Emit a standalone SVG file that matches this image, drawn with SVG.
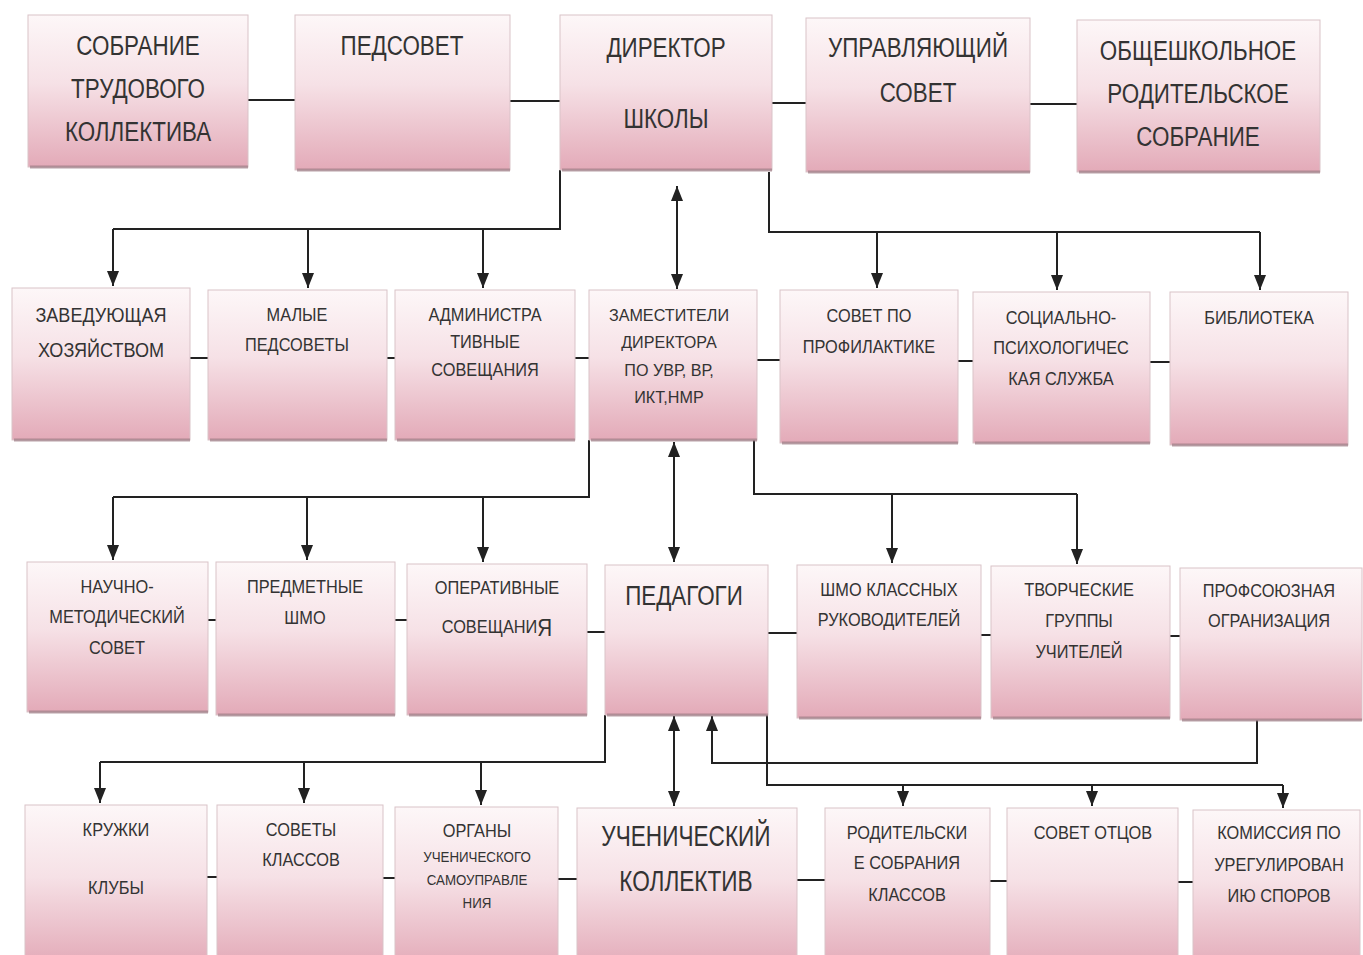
<svg xmlns="http://www.w3.org/2000/svg" width="1363" height="955" viewBox="0 0 1363 955">
<defs>
<linearGradient id="pink" x1="0" y1="0" x2="0" y2="1">
<stop offset="0" stop-color="#fdf7f8"/>
<stop offset="0.45" stop-color="#f6e1e6"/>
<stop offset="1" stop-color="#e3aab8"/>
</linearGradient>
<marker id="ah" viewBox="0 0 10 10" refX="10" refY="5" markerWidth="15" markerHeight="12" markerUnits="userSpaceOnUse" orient="auto-start-reverse" preserveAspectRatio="none">
<path d="M0,0 L10,5 L0,10 z" fill="#222"/>
</marker>
</defs>
<style>
.box{fill:url(#pink);stroke:#d9c3c8;stroke-width:1}
.sh{fill:none;stroke:#9c7c84;stroke-width:3;opacity:0.7}
text{font-family:"Liberation Sans",Arial,sans-serif;fill:#333;text-anchor:middle;dominant-baseline:central;transform-box:fill-box;transform-origin:center;transform:scaleX(0.86)}
.t1{font-size:28px;transform:scaleX(0.8)}
.t2{font-size:21px}
.t3{font-size:19px}
.t4{font-size:17px;transform:scaleX(0.95)}
.t5{font-size:15.5px}
.big{font-size:29px;transform:scaleX(0.78)}
.c{fill:none;stroke:#222;stroke-width:2}
.ca{fill:none;stroke:#222;stroke-width:2;marker-end:url(#ah)}
.cd{fill:none;stroke:#222;stroke-width:2;marker-start:url(#ah);marker-end:url(#ah)}
</style>
<rect width="1363" height="955" fill="#ffffff"/>

<g id="connectors">
<line class="c" x1="248" y1="100" x2="295" y2="100"/>
<line class="c" x1="510" y1="101" x2="560" y2="101"/>
<line class="c" x1="772" y1="103" x2="806" y2="103"/>
<line class="c" x1="1030" y1="104" x2="1077" y2="104"/>
<polyline class="c" points="560,170 560,229 113,229"/>
<line class="ca" x1="113" y1="229" x2="113" y2="286"/>
<line class="ca" x1="308" y1="229" x2="308" y2="288"/>
<line class="ca" x1="483" y1="229" x2="483" y2="288"/>
<polyline class="c" points="769,172 769,232 1260,232"/>
<line class="ca" x1="877" y1="232" x2="877" y2="288"/>
<line class="ca" x1="1057" y1="232" x2="1057" y2="290"/>
<line class="ca" x1="1260" y1="232" x2="1260" y2="290"/>
<line class="cd" x1="677" y1="186" x2="677" y2="289"/>
<line class="c" x1="190" y1="358" x2="208" y2="358"/>
<line class="c" x1="387" y1="358" x2="395" y2="358"/>
<line class="c" x1="575" y1="358" x2="589" y2="358"/>
<line class="c" x1="757" y1="360" x2="780" y2="360"/>
<line class="c" x1="958" y1="361" x2="973" y2="361"/>
<line class="c" x1="1150" y1="362" x2="1170" y2="362"/>
<polyline class="c" points="589,440 589,497 113,497"/>
<line class="ca" x1="113" y1="497" x2="113" y2="560"/>
<line class="ca" x1="307" y1="497" x2="307" y2="560"/>
<line class="ca" x1="483" y1="497" x2="483" y2="562"/>
<polyline class="c" points="754,440 754,494 1077,494"/>
<line class="ca" x1="892" y1="494" x2="892" y2="563"/>
<line class="ca" x1="1077" y1="494" x2="1077" y2="564"/>
<line class="cd" x1="674" y1="442" x2="674" y2="562"/>
<line class="c" x1="208" y1="620" x2="216" y2="620"/>
<line class="c" x1="395" y1="620" x2="407" y2="620"/>
<line class="c" x1="587" y1="632" x2="605" y2="632"/>
<line class="c" x1="768" y1="633" x2="797" y2="633"/>
<line class="c" x1="981" y1="635" x2="991" y2="635"/>
<line class="c" x1="1170" y1="636" x2="1180" y2="636"/>
<polyline class="c" points="605,715 605,762 100,762"/>
<line class="ca" x1="100" y1="762" x2="100" y2="803"/>
<line class="ca" x1="304" y1="762" x2="304" y2="803"/>
<line class="ca" x1="481" y1="762" x2="481" y2="805"/>
<line class="cd" x1="674" y1="716" x2="674" y2="806"/>
<polyline class="ca" points="1257,720 1257,763 712,763 712,716"/>
<polyline class="c" points="767,715 767,785 1283,785"/>
<line class="ca" x1="903" y1="785" x2="903" y2="806"/>
<line class="ca" x1="1092" y1="785" x2="1092" y2="806"/>
<line class="ca" x1="1283" y1="785" x2="1283" y2="808"/>
<line class="c" x1="207" y1="877" x2="217" y2="877"/>
<line class="c" x1="383" y1="878" x2="395" y2="878"/>
<line class="c" x1="558" y1="879" x2="577" y2="879"/>
<line class="c" x1="797" y1="880" x2="825" y2="880"/>
<line class="c" x1="990" y1="881" x2="1007" y2="881"/>
<line class="c" x1="1178" y1="882" x2="1193" y2="882"/>
</g>

<g id="n-sobranie">
<rect class="box" x="28" y="15" width="220" height="152"/>
<line class="sh" x1="30" y1="167" x2="248" y2="167"/>
<text class="t1" x="138" y="45">СОБРАНИЕ</text>
<text class="t1" x="138" y="88">ТРУДОВОГО</text>
<text class="t1" x="138" y="131">КОЛЛЕКТИВА</text>
</g>
<g id="n-pedsovet">
<rect class="box" x="295" y="15" width="215" height="155"/>
<line class="sh" x1="297" y1="170" x2="510" y2="170"/>
<text class="t1" x="402" y="45">ПЕДСОВЕТ</text>
</g>
<g id="n-director">
<rect class="box" x="560" y="15" width="212" height="155"/>
<line class="sh" x1="562" y1="170" x2="772" y2="170"/>
<text class="t1" x="666" y="47">ДИРЕКТОР</text>
<text class="t1" x="666" y="118">ШКОЛЫ</text>
</g>
<g id="n-upr">
<rect class="box" x="806" y="18" width="224" height="154"/>
<line class="sh" x1="808" y1="172" x2="1030" y2="172"/>
<text class="t1" x="918" y="47">УПРАВЛЯЮЩИЙ</text>
<text class="t1" x="918" y="92">СОВЕТ</text>
</g>
<g id="n-roditelskoe">
<rect class="box" x="1077" y="20" width="243" height="152"/>
<line class="sh" x1="1079" y1="172" x2="1320" y2="172"/>
<text class="t1" x="1198" y="50">ОБЩЕШКОЛЬНОЕ</text>
<text class="t1" x="1198" y="93">РОДИТЕЛЬСКОЕ</text>
<text class="t1" x="1198" y="136">СОБРАНИЕ</text>
</g>

<g id="n-zaveduyushaya">
<rect class="box" x="12" y="288" width="178" height="152"/>
<line class="sh" x1="14" y1="440" x2="190" y2="440"/>
<text class="t2" x="101" y="315">ЗАВЕДУЮЩАЯ</text>
<text class="t2" x="101" y="350">ХОЗЯЙСТВОМ</text>
</g>
<g id="n-malye">
<rect class="box" x="208" y="290" width="179" height="150"/>
<line class="sh" x1="210" y1="440" x2="387" y2="440"/>
<text class="t3" x="297" y="315">МАЛЫЕ</text>
<text class="t3" x="297" y="345">ПЕДСОВЕТЫ</text>
</g>
<g id="n-admin">
<rect class="box" x="395" y="290" width="180" height="150"/>
<line class="sh" x1="397" y1="440" x2="575" y2="440"/>
<text class="t3" x="485" y="315">АДМИНИСТРА</text>
<text class="t3" x="485" y="342">ТИВНЫЕ</text>
<text class="t3" x="485" y="370">СОВЕЩАНИЯ</text>
</g>
<g id="n-zam">
<rect class="box" x="589" y="290" width="168" height="150"/>
<line class="sh" x1="591" y1="440" x2="757" y2="440"/>
<text class="t4" x="669" y="315">ЗАМЕСТИТЕЛИ</text>
<text class="t4" x="669" y="342">ДИРЕКТОРА</text>
<text class="t4" x="669" y="370">ПО УВР, ВР,</text>
<text class="t4" x="669" y="397">ИКТ,НМР</text>
</g>
<g id="n-profilaktika">
<rect class="box" x="780" y="290" width="178" height="153"/>
<line class="sh" x1="782" y1="443" x2="958" y2="443"/>
<text class="t3" x="869" y="316">СОВЕТ ПО</text>
<text class="t3" x="869" y="347">ПРОФИЛАКТИКЕ</text>
</g>
<g id="n-social">
<rect class="box" x="973" y="292" width="177" height="151"/>
<line class="sh" x1="975" y1="443" x2="1150" y2="443"/>
<text class="t3" x="1061" y="318">СОЦИАЛЬНО-</text>
<text class="t3" x="1061" y="348">ПСИХОЛОГИЧЕС</text>
<text class="t3" x="1061" y="379">КАЯ СЛУЖБА</text>
</g>
<g id="n-biblioteka">
<rect class="box" x="1170" y="292" width="178" height="153"/>
<line class="sh" x1="1172" y1="445" x2="1348" y2="445"/>
<text class="t3" x="1259" y="318">БИБЛИОТЕКА</text>
</g>

<g id="n-nauchno">
<rect class="box" x="27" y="562" width="181" height="150"/>
<line class="sh" x1="29" y1="712" x2="208" y2="712"/>
<text class="t3" x="117" y="587">НАУЧНО-</text>
<text class="t3" x="117" y="617">МЕТОДИЧЕСКИЙ</text>
<text class="t3" x="117" y="648">СОВЕТ</text>
</g>
<g id="n-predmetnye">
<rect class="box" x="216" y="562" width="179" height="153"/>
<line class="sh" x1="218" y1="715" x2="395" y2="715"/>
<text class="t3" x="305" y="587">ПРЕДМЕТНЫЕ</text>
<text class="t3" x="305" y="618">ШМО</text>
</g>
<g id="n-operativnye">
<rect class="box" x="407" y="564" width="180" height="151"/>
<line class="sh" x1="409" y1="715" x2="587" y2="715"/>
<text class="t3" x="497" y="588">ОПЕРАТИВНЫЕ</text>
<text class="t3" x="497" y="627">СОВЕЩАНИ<tspan font-size="24">Я</tspan></text>
</g>
<g id="n-pedagogi">
<rect class="box" x="605" y="565" width="163" height="150"/>
<line class="sh" x1="607" y1="715" x2="768" y2="715"/>
<text class="t1" x="684" y="595">ПЕДАГОГИ</text>
</g>
<g id="n-shmo">
<rect class="box" x="797" y="565" width="184" height="153"/>
<line class="sh" x1="799" y1="718" x2="981" y2="718"/>
<text class="t3" x="889" y="590">ШМО КЛАССНЫХ</text>
<text class="t3" x="889" y="620">РУКОВОДИТЕЛЕЙ</text>
</g>
<g id="n-tvorcheskie">
<rect class="box" x="991" y="566" width="179" height="152"/>
<line class="sh" x1="993" y1="718" x2="1170" y2="718"/>
<text class="t3" x="1079" y="590">ТВОРЧЕСКИЕ</text>
<text class="t3" x="1079" y="621">ГРУППЫ</text>
<text class="t3" x="1079" y="652">УЧИТЕЛЕЙ</text>
</g>
<g id="n-profsoyuz">
<rect class="box" x="1180" y="568" width="182" height="152"/>
<line class="sh" x1="1182" y1="720" x2="1362" y2="720"/>
<text class="t3" x="1269" y="591">ПРОФСОЮЗНАЯ</text>
<text class="t3" x="1269" y="621">ОГРАНИЗАЦИЯ</text>
</g>

<g id="n-kruzhki">
<rect class="box" x="25" y="805" width="182" height="160"/>
<text class="t3" x="116" y="830">КРУЖКИ</text>
<text class="t3" x="116" y="888">КЛУБЫ</text>
</g>
<g id="n-sovety">
<rect class="box" x="217" y="805" width="166" height="160"/>
<text class="t3" x="301" y="830">СОВЕТЫ</text>
<text class="t3" x="301" y="860">КЛАССОВ</text>
</g>
<g id="n-organy">
<rect class="box" x="395" y="807" width="163" height="160"/>
<text class="t3" x="477" y="831">ОРГАНЫ</text>
<text class="t5" x="477" y="857">УЧЕНИЧЕСКОГО</text>
<text class="t5" x="477" y="880">САМОУПРАВЛЕ</text>
<text class="t5" x="477" y="903">НИЯ</text>
</g>
<g id="n-uchenicheskiy">
<rect class="box" x="577" y="808" width="220" height="160"/>
<text class="big" x="686" y="836">УЧЕНИЧЕСКИЙ</text>
<text class="big" x="686" y="881">КОЛЛЕКТИВ</text>
</g>
<g id="n-roditelskie">
<rect class="box" x="825" y="808" width="165" height="160"/>
<text class="t3" x="907" y="833">РОДИТЕЛЬСКИ</text>
<text class="t3" x="907" y="863">Е СОБРАНИЯ</text>
<text class="t3" x="907" y="895">КЛАССОВ</text>
</g>
<g id="n-otcov">
<rect class="box" x="1007" y="808" width="171" height="160"/>
<text class="t3" x="1093" y="833">СОВЕТ ОТЦОВ</text>
</g>
<g id="n-komissiya">
<rect class="box" x="1193" y="810" width="167" height="160"/>
<text class="t3" x="1279" y="833">КОМИССИЯ ПО</text>
<text class="t3" x="1279" y="865">УРЕГУЛИРОВАН</text>
<text class="t3" x="1279" y="896">ИЮ СПОРОВ</text>
</g>
</svg>
